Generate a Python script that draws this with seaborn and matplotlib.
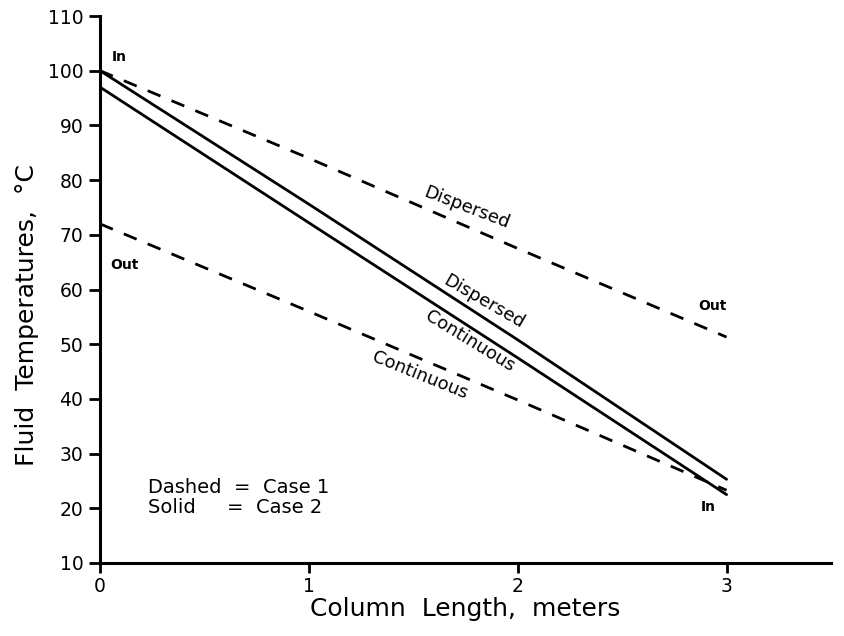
import matplotlib
matplotlib.use("Agg")
import matplotlib.pyplot as plt
import seaborn as sns
import pandas as pd

# Data
length_m = [0, 1, 2, 3]
disp_case1 = [100, 84, 67.5, 51.3]    # dashed, Dispersed
cont_case1 = [72, 56, 39.8, 23.3]     # dashed, Continuous
disp_case2 = [100, 75.6, 50.8, 25.3]  # solid, Dispersed
cont_case2 = [97, 72.2, 47.5, 22.5]   # solid, Continuous

x_ticks = [0, 1, 2, 3]
y_ticks = list(range(10, 111, 10))

sns.set_theme(style="white")
plt.rcParams['font.family'] = ['DejaVu Sans']

fig = plt.figure(figsize=(8.44, 6.36), dpi=100)
ax = fig.add_axes([100 / 844, 1 - 563 / 636, 731 / 844, 547 / 636])

series = [
    (disp_case1, (5, 4.3)),
    (cont_case1, (5, 4.3)),
    (disp_case2, None),
    (cont_case2, None),
]
for yv, dash in series:
    df = pd.DataFrame({"x": length_m, "y": yv})
    sns.lineplot(data=df, x="x", y="y", ax=ax, color="black", linewidth=2.0)
    if dash is not None:
        ax.lines[-1].set_dashes(dash)

ax.set_xlim(0, 3.5)
ax.set_ylim(10, 110)
ax.set_xticks(x_ticks)
ax.set_yticks(y_ticks)
ax.tick_params(axis="both", direction="out", width=2, colors="black",
               labelsize=13.5, left=True, bottom=True)
ax.tick_params(axis="y", length=8, pad=4)
ax.tick_params(axis="x", length=7, pad=3)
for s in ["top", "right"]:
    ax.spines[s].set_visible(False)
for s in ["left", "bottom"]:
    ax.spines[s].set_color("black")
    ax.spines[s].set_linewidth(2.2)

ax.set_xlabel("Column  Length,  meters", fontsize=18, color="black", labelpad=1)
ax.set_ylabel("Fluid  Temperatures,  °C", fontsize=18, color="black")
ax.yaxis.set_label_coords(-0.084, 0.453)

tk = dict(color="black", fontsize=10, fontweight="bold")
ax.text(0.055, 102.5, "In", ha="left", va="center", **tk)
ax.text(0.048, 64.5, "Out", ha="left", va="center", **tk)
ax.text(2.93, 56.9, "Out", ha="center", va="center", **tk)
ax.text(2.91, 20.2, "In", ha="center", va="center", **tk)

lk = dict(color="black", fontsize=13, ha="center", va="center",
          rotation_mode="anchor")
ax.text(1.756, 74.9, "Dispersed", rotation=-21, **lk)
ax.text(1.84, 57.8, "Dispersed", rotation=-30, **lk)
ax.text(1.77, 50.5, "Continuous", rotation=-31.5, **lk)
ax.text(1.53, 44.3, "Continuous", rotation=-22, **lk)

ax.text(0.228, 23.8, "Dashed  =  Case 1", ha="left", va="center", color="black", fontsize=14)
ax.text(0.228, 20.2, "Solid     =  Case 2", ha="left", va="center", color="black", fontsize=14)

fig.savefig("out.png", dpi=100)
